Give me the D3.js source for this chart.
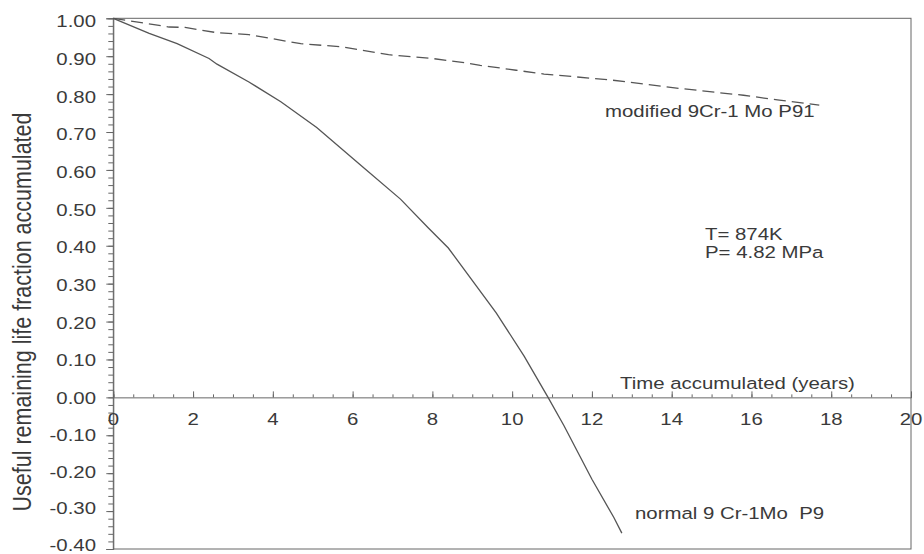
<!DOCTYPE html>
<html lang="en">
<head>
    <meta charset="UTF-8">
    <title>Remaining life fraction</title>
    <script src="https://cdn.jsdelivr.net/npm/d3@7"></script>
    <style>
        body { margin: 0; background: #fff; }
        text { font-family: "Liberation Sans", Arial, sans-serif; fill: #3a3a3a; white-space: pre; }
        .axis path, .axis line { stroke: #666; }
    </style>
</head>
<body>
    <svg id="main" width="924" height="554"></svg>
    <script>
        // data
        let p91Years = [0, 1.4, 1.8, 2.6, 3.4, 4.7, 5.7, 6.9, 8.0, 8.8, 9.2, 10.1, 10.8, 12.5, 14.2, 15.8, 16.7, 17.7];
        let p91Life  = [1.00, 0.977, 0.976, 0.962, 0.957, 0.933, 0.925, 0.904, 0.894, 0.883, 0.876, 0.863, 0.853, 0.837, 0.815, 0.797, 0.784, 0.771];
        let p9Years  = [0, 0.9, 1.6, 2.4, 2.6, 3.4, 4.2, 5.1, 6.3, 7.2, 7.9, 8.4, 9.6, 10.3, 10.9, 11.3, 12.0, 12.55, 12.75];
        let p9Life   = [1.00, 0.960, 0.933, 0.894, 0.879, 0.832, 0.780, 0.712, 0.604, 0.523, 0.447, 0.394, 0.223, 0.109, 0.0, -0.075, -0.216, -0.317, -0.358];
        let xTicks = [0, 2, 4, 6, 8, 10, 12, 14, 16, 18, 20];
        let yTicks = [1.0, 0.9, 0.8, 0.7, 0.6, 0.5, 0.4, 0.3, 0.2, 0.1, 0.0, -0.1, -0.2, -0.3, -0.4];

        let svg = d3.select('svg#main');
        let sx = 1.2; // text in the picture is drawn wide

        let x = d3.scaleLinear().domain([0, 20]).range([113.3, 911]);
        let y = d3.scaleLinear().domain([-0.4, 1.0]).range([549, 18.3]);
        // tick labels sit a little inside the ends of the axis
        let yLabel = d3.scaleLinear().domain([-0.4, 0, 1.0]).range([545, 398, 21]);

        // frame
        svg.append('rect')
            .attr('x', x(0)).attr('y', y(1))
            .attr('width', x(20) - x(0)).attr('height', y(-0.4) - y(1))
            .attr('fill', 'none').attr('stroke', '#666');

        // y axis, minor ticks every 0.02
        let yMinor = d3.range(-20, 51).map(i => i / 50);
        svg.append('g').attr('class', 'axis')
            .attr('transform', `translate(${x(0)},0)`)
            .call(d3.axisLeft(y).tickValues(yMinor).tickSize(5).tickFormat(''))
            .call(g => g.select('.domain').remove());
        svg.append('g').attr('class', 'axis')
            .attr('transform', `translate(${x(0)},0)`)
            .call(d3.axisLeft(y).tickValues(yTicks).tickSize(7).tickFormat(''));
        svg.append('g').selectAll('text')
            .data(yTicks)
            .enter()
            .append('text')
            .attr('transform', d => `translate(96,${yLabel(d)}) scale(${sx},1)`)
            .attr('text-anchor', 'end')
            .attr('dy', '0.36em')
            .style('font-size', '17px')
            .text(d => d.toFixed(2));

        // x axis on the zero line, ticks pointing up
        let xMinor = d3.range(0, 41).map(i => i / 2);
        svg.append('g').attr('class', 'axis')
            .attr('transform', `translate(0,${y(0)})`)
            .call(d3.axisTop(x).tickValues(xMinor).tickSize(3).tickFormat(''));
        svg.append('g').attr('class', 'axis')
            .attr('transform', `translate(0,${y(0)})`)
            .call(d3.axisTop(x).tickValues(xTicks).tickSize(6).tickFormat(''))
            .call(g => g.select('.domain').remove());
        svg.append('g').selectAll('text')
            .data(xTicks)
            .enter()
            .append('text')
            .attr('transform', d => `translate(${x(d)},425) scale(${sx},1)`)
            .attr('text-anchor', 'middle')
            .style('font-size', '17px')
            .text(d => d);

        // curves
        let line = d3.line()
            .x(d => x(d[0]))
            .y(d => y(d[1]));
        svg.append('path')
            .datum(p91Years.map((t, i) => [t, p91Life[i]]))
            .attr('d', line)
            .attr('fill', 'none').attr('stroke', '#555')
            .attr('stroke-width', 1.3).attr('stroke-dasharray', '12,6');
        svg.append('path')
            .datum(p9Years.map((t, i) => [t, p9Life[i]]))
            .attr('d', line)
            .attr('fill', 'none').attr('stroke', '#555')
            .attr('stroke-width', 1.3);

        // labels
        let labels = [
            {t: 'modified 9Cr-1 Mo P91', x: 605, y: 116.5},
            {t: 'normal 9 Cr-1Mo  P9', x: 635, y: 519},
            {t: 'Time accumulated (years)', x: 620, y: 389},
            {t: 'T= 874K', x: 705, y: 240},
            {t: 'P= 4.82 MPa', x: 705, y: 258}
        ];
        svg.append('g').selectAll('text')
            .data(labels)
            .enter()
            .append('text')
            .attr('transform', d => `translate(${d.x},${d.y}) scale(${sx},1)`)
            .style('font-size', '17px')
            .text(d => d.t);

        svg.append('text')
            .attr('transform', `translate(31,312) scale(${sx},1) rotate(-90)`)
            .attr('text-anchor', 'middle')
            .style('font-size', '21.5px')
            .text('Useful remaining life fraction accumulated');
    </script>
</body>
</html>
